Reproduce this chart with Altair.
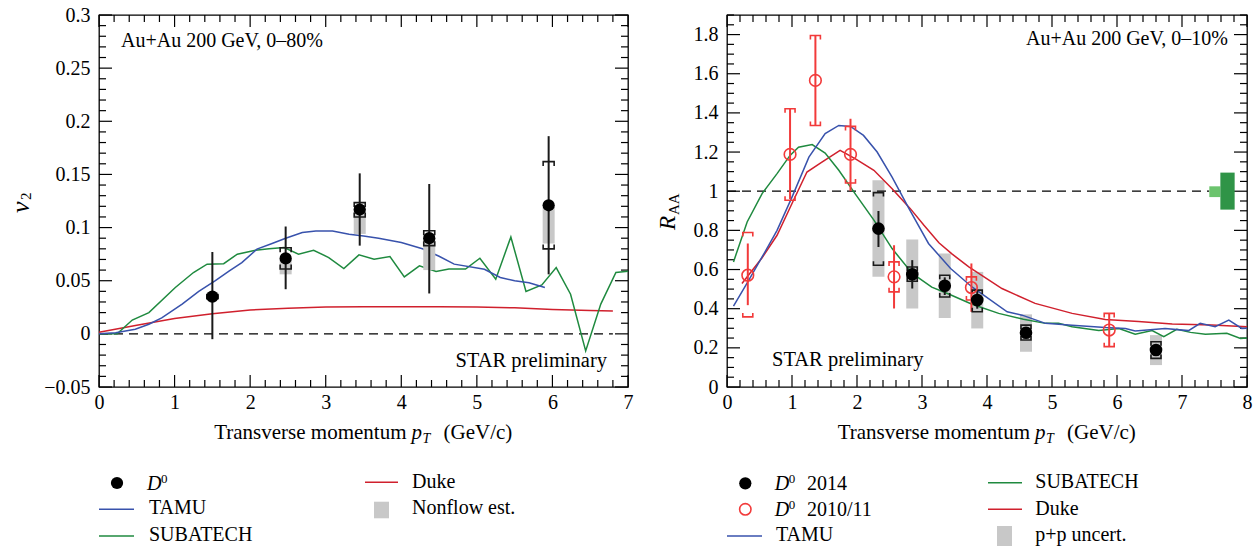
import altair as alt
import pandas as pd
import numpy as np

FONT = "Liberation Serif"
BLUE = "#3852ac"
GREEN = "#1f8a3f"
RED_LINE = "#d0202d"
RED_PT = "#f23a3a"
GRAY = "#c8c8c8"
INK = "#1a1a1a"

# ---------------- Left panel: v2, Au+Au 0-80% ----------------
v2_pt = [1.5, 2.47, 3.45, 4.37, 5.95]
v2_val = [0.035, 0.071, 0.117, 0.090, 0.121]
v2_stat_lo = [-0.005, 0.042, 0.083, 0.038, 0.056]
v2_stat_hi = [0.077, 0.101, 0.151, 0.141, 0.186]
v2_sys_lo = [0.033, 0.061, 0.110, 0.083, 0.080]
v2_sys_hi = [0.037, 0.081, 0.1235, 0.097, 0.162]
v2_nf_pt = [2.47, 3.45, 4.37, 5.95]
v2_nf_lo = [0.056, 0.094, 0.060, 0.085]
v2_nf_hi = [0.071, 0.117, 0.090, 0.120]

tamu_v2_pt = [0, 0.22, 0.48, 0.66, 0.83, 1.1, 1.32, 1.54, 1.72, 1.89, 2.09, 2.29, 2.47, 2.69,
              2.87, 3.09, 3.31, 3.5, 3.7, 4.0, 4.28, 4.5, 4.7, 5.1, 5.31, 5.5, 5.69, 5.9]
tamu_v2 = [0, 0.001, 0.0044, 0.009, 0.015, 0.028, 0.040, 0.050, 0.059, 0.067, 0.0797, 0.085,
           0.090, 0.0953, 0.0968, 0.0968, 0.0938, 0.092, 0.090, 0.086, 0.080, 0.073, 0.0656,
           0.0608, 0.053, 0.050, 0.048, 0.0436]
sub_v2_pt = [0, 0.24, 0.44, 0.66, 1.01, 1.25, 1.43, 1.65, 1.83, 2.07, 2.25, 2.45, 2.64, 2.84,
             3.04, 3.24, 3.44, 3.64, 3.85, 4.04, 4.24, 4.46, 4.63, 4.85, 5.04, 5.25, 5.45,
             5.65, 5.86, 6.05, 6.24, 6.44, 6.64, 6.84, 7.0]
sub_v2 = [0, 0.0, 0.013, 0.020, 0.0436, 0.0577, 0.0656, 0.066, 0.075, 0.0787, 0.080, 0.0813,
          0.075, 0.0787, 0.0718, 0.0614, 0.0743, 0.0702, 0.0727, 0.0536, 0.064, 0.0586, 0.061,
          0.061, 0.0712, 0.0514, 0.0912, 0.0398, 0.046, 0.0624, 0.0373, -0.016, 0.028, 0.0577,
          0.059]
duke_v2_pt = [0, 0.5, 1.0, 1.5, 2.0, 2.5, 3.0, 3.5, 4.0, 4.5, 5.0, 5.5, 6.0, 6.5, 6.8]
duke_v2 = [0.0015, 0.008, 0.0145, 0.019, 0.0225, 0.024, 0.0252, 0.0255, 0.0255, 0.0255,
           0.0252, 0.0245, 0.023, 0.022, 0.0216]
v2_ref = {"x0": [0.0], "x1": [6.8], "y": [0.0]}

# ---------------- Right panel: RAA, Au+Au 0-10% ----------------
d14_pt = [2.33, 2.85, 3.35, 3.85, 4.6, 6.6]
d14_val = [0.809, 0.576, 0.517, 0.444, 0.277, 0.189]
d14_stat_lo = [0.715, 0.503, 0.47, 0.40, 0.25, 0.16]
d14_stat_hi = [0.899, 0.648, 0.56, 0.49, 0.30, 0.22]
d14_sys_lo = [0.622, 0.54, 0.46, 0.384, 0.24, 0.146]
d14_sys_hi = [0.993, 0.613, 0.571, 0.495, 0.316, 0.231]
d14_pp_lo = [0.5625, 0.401, 0.353, 0.299, 0.18, 0.112]
d14_pp_hi = [1.056, 0.753, 0.682, 0.588, 0.371, 0.265]

d11_pt = [0.32, 0.97, 1.36, 1.90, 2.57, 3.76, 5.88]
d11_val = [0.571, 1.188, 1.566, 1.188, 0.5625, 0.508, 0.291]
d11_stat_lo = [0.418, 0.96, 1.336, 1.001, 0.401, 0.384, 0.206]
d11_stat_hi = [0.733, 1.42, 1.795, 1.37, 0.724, 0.631, 0.376]
d11_sys_lo = [0.358, 0.954, 1.336, 1.042, 0.486, 0.444, 0.206]
d11_sys_hi = [0.789, 1.421, 1.795, 1.331, 0.639, 0.5625, 0.376]

tamu_raa_pt = [0.10, 0.32, 0.54, 0.77, 1.0, 1.26, 1.51, 1.72, 1.90, 2.10, 2.31, 2.54, 2.80, 3.10,
               3.44, 3.77, 4.31, 4.54, 4.90, 5.31, 5.82, 6.13, 6.28, 6.74, 7.10, 7.28, 7.51,
               7.72, 7.92, 8.0]
tamu_raa = [0.413, 0.537, 0.664, 0.80, 0.97, 1.174, 1.294, 1.336, 1.331, 1.285, 1.2, 1.072,
            0.911, 0.733, 0.605, 0.511, 0.384, 0.367, 0.325, 0.316, 0.304, 0.299, 0.286, 0.299,
            0.288, 0.325, 0.308, 0.342, 0.299, 0.30]
sub_raa_pt = [0.10, 0.31, 0.54, 0.77, 0.97, 1.10, 1.31, 1.51, 1.72, 1.97, 2.26, 2.54, 2.85, 3.15,
              3.41, 3.77, 4.18, 4.56, 4.90, 5.10, 5.31, 5.72, 6.03, 6.28, 6.54, 6.72, 6.92,
              7.13, 7.36, 7.69, 7.90, 8.0]
sub_raa = [0.639, 0.843, 0.988, 1.09, 1.183, 1.225, 1.238, 1.195, 1.107, 0.988, 0.852, 0.707,
           0.58, 0.51, 0.475, 0.423, 0.376, 0.346, 0.325, 0.325, 0.308, 0.288, 0.299, 0.27,
           0.288, 0.257, 0.295, 0.279, 0.27, 0.274, 0.248, 0.25]
duke_raa_pt = [0.23, 0.54, 0.77, 1.0, 1.23, 1.46, 1.74, 1.97, 2.26, 2.54, 2.82, 3.03, 3.26, 3.46,
               3.72, 4.23, 4.74, 5.31, 5.82, 6.33, 6.85, 7.46, 8.0]
duke_raa = [0.529, 0.66, 0.775, 0.937, 1.098, 1.149, 1.209, 1.166, 1.107, 1.013, 0.911, 0.826,
            0.737, 0.68, 0.614, 0.503, 0.427, 0.376, 0.345, 0.334, 0.322, 0.317, 0.308]
raa_ref = {"x0": [0.0], "x1": [7.42], "y": [1.0]}
norm_dark = {"x0": [7.59], "x1": [7.81], "y0": [0.906], "y1": [1.095]}
norm_light = {"x0": [7.42], "x1": [7.59], "y0": [0.97], "y1": [1.025]}

# tick positions
L_xmaj = list(range(0, 8))
L_xmin = [round(v, 2) for v in np.arange(0, 7.0001, 0.2) if abs(v - round(v)) > 1e-6]
L_ymaj = [-0.05, 0, 0.05, 0.1, 0.15, 0.2, 0.25, 0.3]
L_ymin = [round(v, 3) for v in np.arange(-0.05, 0.3001, 0.01)
          if min(abs(v - m) for m in L_ymaj) > 1e-6]
R_xmaj = list(range(0, 9))
R_xmin = [round(v, 2) for v in np.arange(0, 8.0001, 0.2) if abs(v - round(v)) > 1e-6]
R_ymaj = [0, 0.2, 0.4, 0.6, 0.8, 1.0, 1.2, 1.4, 1.6, 1.8]
R_ymin = [round(v, 3) for v in np.arange(0, 1.9001, 0.05)
          if min(abs(v - m) for m in R_ymaj) > 1e-6]

one = pd.DataFrame({"a": [0]})

TOP_BR = "M -1 0.8 L -1 0 L 1 0 L 1 0.8"
BOT_BR = "M -1 -0.8 L -1 0 L 1 0 L 1 -0.8"
FS = 20


def T(s, x, y, size=FS, italic=False, align="left", angle=0, dx=0, dy=0):
    kw = dict(text=s, fontSize=size, font=FONT, fontStyle="italic" if italic else "normal",
              align=align, baseline="alphabetic", color="black")
    if angle:
        kw["angle"] = angle
    if dx:
        kw["dx"] = dx
    if dy:
        kw["dy"] = dy
    return alt.Chart(one).mark_text(**kw).encode(x=alt.value(x), y=alt.value(y))


def make_panel(W, H, xdom, ydom, xvals, yvals, yfmt, xmaj, xmin, ymaj, ymin):
    def X(f):
        return alt.X(f, type="quantitative",
                     scale=alt.Scale(domain=xdom, nice=False, zero=False),
                     axis=alt.Axis(values=xvals, format="d", title=None, ticks=False,
                                   domain=False, grid=False, labelPadding=5,
                                   labelFlush=False, labelOverlap=False,
                                   labelFont=FONT, labelFontSize=FS, labelColor="black"))

    def Y(f):
        return alt.Y(f, type="quantitative",
                     scale=alt.Scale(domain=ydom, nice=False, zero=False),
                     axis=alt.Axis(values=yvals, format=yfmt, title=None, ticks=False,
                                   domain=False, grid=False, labelPadding=9,
                                   labelFlush=False, labelOverlap=False,
                                   labelFont=FONT, labelFontSize=FS, labelColor="black"))

    layers = []
    for vals, ln in ((xmaj, 12), (xmin, 7)):
        d = pd.DataFrame({"v": vals})
        layers.append(alt.Chart(d).mark_rule(color="black", strokeWidth=1.2).encode(
            x=X("v"), y=alt.value(H), y2=alt.value(H - ln)))
        layers.append(alt.Chart(d).mark_rule(color="black", strokeWidth=1.2).encode(
            x=X("v"), y=alt.value(0), y2=alt.value(ln)))
    for vals, ln in ((ymaj, 13), (ymin, 7)):
        d = pd.DataFrame({"v": vals})
        layers.append(alt.Chart(d).mark_rule(color="black", strokeWidth=1.2).encode(
            y=Y("v"), x=alt.value(0), x2=alt.value(ln)))
        layers.append(alt.Chart(d).mark_rule(color="black", strokeWidth=1.2).encode(
            y=Y("v"), x=alt.value(W), x2=alt.value(W - ln)))
    return layers, X, Y


def line(X, Y, xs, ys, color):
    d = pd.DataFrame({"x": xs, "y": ys})
    return alt.Chart(d).mark_line(color=color, strokeWidth=1.5).encode(x=X("x"), y=Y("y"))


def dashed(X, Y, ref):
    d = pd.DataFrame(ref)
    return alt.Chart(d).mark_rule(color="black", strokeWidth=1.3, strokeDash=[9, 6]).encode(
        x=X("x0"), x2=alt.X2("x1"), y=Y("y"))


def boxes(X, Y, xs, lo, hi, color, half):
    d = pd.DataFrame({"x": xs, "lo": lo, "hi": hi})
    return alt.Chart(d).mark_rect(color=color, xOffset=-half, x2Offset=half).encode(
        x=X("x"), x2=alt.X2("x"), y=Y("lo"), y2=alt.Y2("hi"))


def errbars(X, Y, xs, lo, hi, color):
    d = pd.DataFrame({"x": xs, "lo": lo, "hi": hi})
    return alt.Chart(d).mark_rule(color=color, strokeWidth=2).encode(
        x=X("x"), y=Y("lo"), y2=alt.Y2("hi"))


def brackets(X, Y, xs, lo, hi, color, half):
    size = (2 * half) ** 2
    dt = pd.DataFrame({"x": xs, "y": hi})
    db = pd.DataFrame({"x": xs, "y": lo})
    return [
        alt.Chart(dt).mark_point(shape=TOP_BR, size=size, filled=False, color=color,
                                 strokeWidth=1.6, opacity=1).encode(x=X("x"), y=Y("y")),
        alt.Chart(db).mark_point(shape=BOT_BR, size=size, filled=False, color=color,
                                 strokeWidth=1.6, opacity=1).encode(x=X("x"), y=Y("y")),
    ]


def markers(X, Y, xs, ys, filled, color, size):
    d = pd.DataFrame({"x": xs, "y": ys})
    if filled:
        m = alt.Chart(d).mark_point(shape="circle", filled=True, size=size, color=color,
                                    opacity=1)
    else:
        m = alt.Chart(d).mark_point(shape="circle", filled=False, size=size, color=color,
                                    strokeWidth=1.6, opacity=1)
    return m.encode(x=X("x"), y=Y("y"))


def xtitle(W):
    A = W / 2 + 48
    return [T("Transverse momentum", A - 5, 424, size=21, align="right"),
            T("p", A, 424, size=21, italic=True),
            T("T", A + 11, 428, size=14, italic=True),
            T("(GeV/c)", A + 32, 424, size=21)]


def leg_line(x0, x1, y, color):
    return alt.Chart(one).mark_rule(color=color, strokeWidth=1.5).encode(
        x=alt.value(x0), x2=alt.value(x1), y=alt.value(y))


# ---------- left ----------
WL, H = 529, 372
layL, XL, YL = make_panel(WL, H, [0, 7], [-0.05, 0.3], L_xmaj, L_ymaj, ".2~f",
                          L_xmaj, L_xmin, L_ymaj, L_ymin)
layL += [
    dashed(XL, YL, v2_ref),
    line(XL, YL, duke_v2_pt, duke_v2, RED_LINE),
    line(XL, YL, sub_v2_pt, sub_v2, GREEN),
    line(XL, YL, tamu_v2_pt, tamu_v2, BLUE),
    boxes(XL, YL, v2_nf_pt, v2_nf_lo, v2_nf_hi, GRAY, 6),
    errbars(XL, YL, v2_pt, v2_stat_lo, v2_stat_hi, INK),
]
layL += brackets(XL, YL, v2_pt, v2_sys_lo, v2_sys_hi, INK, 5.5)
layL += [markers(XL, YL, v2_pt, v2_val, True, "black", 150)]
layL += [
    T("Au+Au 200 GeV, 0\u201380%", 22, 32),
    T("STAR preliminary", 508, 352, size=20.5, align="right"),
    T("v", -70, 198, size=26, italic=True, angle=270),
    T("2", -70, 198, size=15, angle=270, dx=13, dy=2),
]
layL += xtitle(WL)
layL += [
    alt.Chart(one).mark_point(shape="circle", filled=True, size=150, color="black",
                              opacity=1).encode(x=alt.value(18), y=alt.value(468)),
    T("D", 48, 475, italic=True), T("0", 62, 468, size=13),
    leg_line(0, 35, 494.3, BLUE), T("TAMU", 50, 499),
    leg_line(0, 35, 521, GREEN), T("SUBATECH", 50, 525.5),
    leg_line(266, 299, 467.3, RED_LINE), T("Duke", 313, 472.7),
    alt.Chart(one).mark_rect(color=GRAY).encode(
        x=alt.value(275), x2=alt.value(290), y=alt.value(486.7), y2=alt.value(503.3)),
    T("Nonflow est.", 313, 499),
]
left = alt.layer(*layL).properties(width=WL, height=H)

# ---------- right ----------
WR = 520
layR, XR, YR = make_panel(WR, H, [0, 8], [0, 1.9], R_xmaj, R_ymaj, ".1~f",
                          R_xmaj, R_xmin, R_ymaj, R_ymin)
layR += [
    boxes(XR, YR, d14_pt, d14_pp_lo, d14_pp_hi, GRAY, 6),
    dashed(XR, YR, raa_ref),
    alt.Chart(pd.DataFrame(norm_light)).mark_rect(color="#6cc46e").encode(
        x=XR("x0"), x2=alt.X2("x1"), y=YR("y0"), y2=alt.Y2("y1")),
    alt.Chart(pd.DataFrame(norm_dark)).mark_rect(color="#2f9447").encode(
        x=XR("x0"), x2=alt.X2("x1"), y=YR("y0"), y2=alt.Y2("y1")),
    line(XR, YR, duke_raa_pt, duke_raa, RED_LINE),
    line(XR, YR, sub_raa_pt, sub_raa, GREEN),
    line(XR, YR, tamu_raa_pt, tamu_raa, BLUE),
    errbars(XR, YR, d14_pt, d14_stat_lo, d14_stat_hi, INK),
    errbars(XR, YR, d11_pt, d11_stat_lo, d11_stat_hi, RED_PT),
]
layR += brackets(XR, YR, d14_pt, d14_sys_lo, d14_sys_hi, INK, 5)
layR += brackets(XR, YR, d11_pt, d11_sys_lo, d11_sys_hi, RED_PT, 5)
layR += [markers(XR, YR, d14_pt, d14_val, True, "black", 160),
         markers(XR, YR, d11_pt, d11_val, False, RED_PT, 135)]
layR += [
    T("Au+Au 200 GeV, 0\u201310%", 501, 30, align="right"),
    T("STAR preliminary", 45, 351, size=20.5),
    T("R", -52, 215, size=23, italic=True, angle=270),
    T("AA", -52, 215, size=15, angle=270, dx=15, dy=4),
]
layR += xtitle(WR)
layR += [
    alt.Chart(one).mark_point(shape="circle", filled=True, size=150, color="black",
                              opacity=1).encode(x=alt.value(18.3), y=alt.value(468.3)),
    T("D", 47.7, 475, italic=True), T("0", 61.7, 468, size=13), T("2014", 80, 475),
    alt.Chart(one).mark_point(shape="circle", filled=False, size=130, color=RED_PT,
                              strokeWidth=1.6, opacity=1).encode(
        x=alt.value(18.3), y=alt.value(494.3)),
    T("D", 47.7, 501, italic=True), T("0", 61.7, 494, size=13), T("2010/11", 80, 501),
    leg_line(0, 35, 521, BLUE), T("TAMU", 49, 525.7),
    leg_line(261, 295, 467.7, GREEN), T("SUBATECH", 308.3, 472.7),
    leg_line(261, 295, 494.3, RED_LINE), T("Duke", 308.3, 500),
    alt.Chart(one).mark_rect(color=GRAY).encode(
        x=alt.value(270), x2=alt.value(285), y=alt.value(511), y2=alt.value(531)),
    T("p+p uncert.", 308.3, 525.7),
]
right = alt.layer(*layR).properties(width=WR, height=H)

chart = alt.hconcat(left, right, spacing=22).properties(
    padding={"left": 7, "top": 4, "right": 0, "bottom": 0},
    background="white",
).configure_view(stroke="black", strokeWidth=1.3)

chart.save("out.html", embed_options={"renderer": "svg", "actions": False})
